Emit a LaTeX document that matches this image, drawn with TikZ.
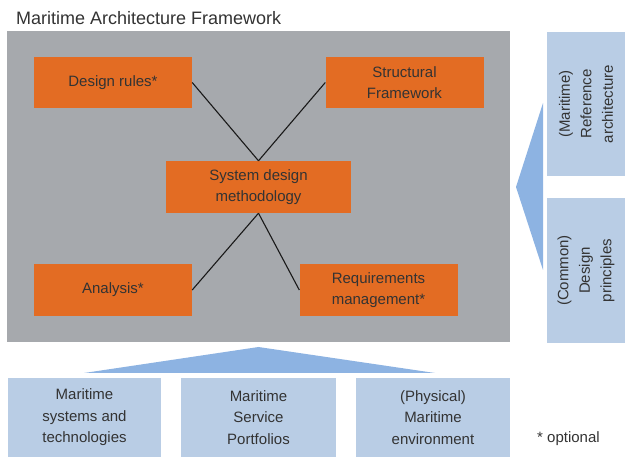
\documentclass[tikz,border=0pt]{standalone}
\usepackage{fontspec}
\setmainfont{Liberation Sans}
\usetikzlibrary{positioning}
\definecolor{mafgray}{HTML}{A6A9AD}
\definecolor{maforange}{HTML}{E36C23}
\definecolor{mafblue}{HTML}{B9CDE5}
\definecolor{mafarrow}{HTML}{8DB3E2}
\definecolor{maftext}{HTML}{333333}
\tikzset{
  orangebox/.style={ fill=maforange, text=maftext, align=center, inner sep=0pt, minimum width=158pt, minimum height=51pt, font=\fontsize{15}{21}\selectfont }
}
\tikzset{
  bluebox/.style={ fill=mafblue, text=maftext, align=center, inner sep=0pt, minimum width=154pt, minimum height=79pt, font=\fontsize{15}{21.5}\selectfont }
}
\tikzset{
  sidebox/.style={ bluebox, rotate=90, minimum width=144pt, minimum height=78pt }
}
\tikzset{
  wedge/.style={ fill=mafarrow }
}
\tikzset{
  link/.style={ draw=black!90, line width=1.1pt }
}

\begin{document}
\begin{tikzpicture}[y=-1pt, x=1pt]
      \useasboundingbox (0, 0) rectangle (625, 457);
      \node[anchor=base west, inner sep=0pt, text=maftext, font=\fontsize{18}{22}\selectfont] (title) at (16, 25) {Maritime Architecture Framework};
      \node[fill=mafgray, inner sep=0pt, minimum width=503pt, minimum height=311pt] (maf) at (258.5, 186.5) {};
      \node[orangebox] (rules) at (113, 82.5) {Design rules*};
      \node[orangebox] (framework) at (404.5, 82.5) {Structural\\Framework};
      \node[orangebox, minimum width=185pt, minimum height=52pt] (method) at (258.5, 187) {System design\\methodology};
      \node[orangebox, minimum height=52pt] (analysis) at (113, 290) {Analysis*};
      \node[orangebox, minimum height=52pt] (reqs) at (378.5, 290) {Requirements\\management*};
      \draw[link] (rules.east) -- (method.north);
      \draw[link] (framework.west) -- (method.north);
      \draw[link] (method.south) -- (analysis.east);
      \draw[link] (method.south) -- (reqs.west);
      \fill[wedge] (258.5, 347) -- (84, 373) -- (435, 373) -- cycle;
      \fill[wedge] (516, 187) -- (543, 103) -- (543, 270) -- cycle;
      \node[bluebox, minimum width=153pt] (systems) at (84.5, 417.5) {Maritime\\systems and\\technologies};
      \node[bluebox, minimum width=155pt] (portfolios) at (258.5, 417.5) {Maritime\\Service\\Portfolios};
      \node[bluebox] (environment) at (433, 417.5) {(Physical)\\Maritime\\environment};
      \node[sidebox] (refarch) at (586, 104) {(Maritime)\\Reference\\architecture};
      \node[sidebox, minimum width=145pt] (principles) at (586, 270.5) {(Common)\\Design\\principles};
      \node[anchor=base west, inner sep=0pt, text=maftext, font=\fontsize{15}{18}\selectfont] (optional) at (537, 443) {* optional};
    \end{tikzpicture}
\end{document}
